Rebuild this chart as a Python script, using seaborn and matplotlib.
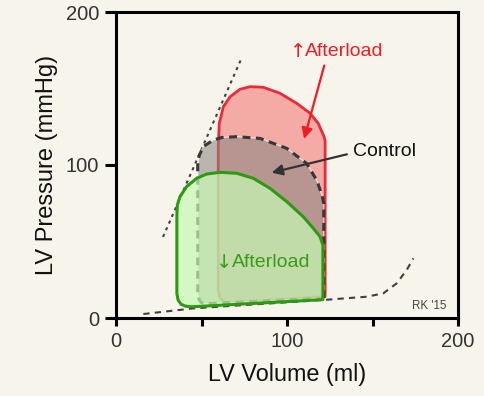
import numpy as np
import pandas as pd
import matplotlib
matplotlib.use("Agg")
import matplotlib.pyplot as plt
import seaborn as sns

# Pressure-volume loops (volume ml, pressure mmHg)
high_vol = [122.3, 122.3, 121.5, 120.3, 118.3, 113.5, 105.7, 95.9, 86.1, 78.4, 72.5, 66.7,
            62.8, 60.4, 59.8, 59.8, 60.8, 63.5, 67]
high_prs = [14, 116, 119, 122, 127.2, 133.8, 140.3, 146.9, 150.8, 151.2, 149.5, 144.6,
            138.1, 127.2, 112, 18, 13, 10.8, 10]

ctrl_vol = [121.5, 121.5, 120.5, 119.3, 117.4, 111.5, 99.8, 84.2, 70.6, 62, 56.9, 51, 48.6, 47.8,
            47.8, 48.6, 50, 52]
ctrl_prs = [13, 75, 80, 84, 90, 101, 110.9, 117.4, 118.5, 118, 116.3, 112, 106, 100,
            16, 12, 10, 9.3]

low_vol = [121, 121, 119.3, 115.4, 109.5, 99.8, 90, 80.3, 70.6, 60.8, 53, 47.2, 41.3, 37.4,
           35.9, 35.6, 35.6, 36.3, 38, 40.5, 44]
low_prs = [12, 47.7, 53.2, 58.6, 66.2, 76.1, 84.8, 91.3, 94.6, 95.2, 94.1, 91.3, 85.9, 79.3,
           73.9, 68, 16, 11.8, 9, 7.8, 7.3]

# end-systolic and end-diastolic relations
espvr_vol = [27.5, 73.5]
espvr_prs = [53, 170]
edpvr_vol = [16, 45.2, 121.3, 146.6, 156.3, 164.1, 170, 173.9]
edpvr_prs = [2.6, 6.3, 11.8, 13.9, 16.1, 22.6, 31.4, 39]

x_ticks = [0, 50, 100, 150, 200]
x_labels = ["0", "", "100", "", "200"]
y_ticks = [0, 100, 200]

bg = "#f7f4ec"
red = "#ee1c25"
green = "#3a9a1a"
sns.set_theme(style="ticks")
plt.rcParams["font.family"] = ["Liberation Sans", "DejaVu Sans"]

fig = plt.figure(figsize=(4.84, 3.96), dpi=100, facecolor=bg)
ax = fig.add_axes([116 / 484, 1 - 318 / 396, 342 / 484, 306 / 396])
ax.set_facecolor(bg)

# relations
sns.lineplot(x=edpvr_vol, y=edpvr_prs, ax=ax, color="#404040", lw=1.5,
             linestyle=(0, (3, 2.5)), sort=False, estimator=None, zorder=1)
sns.lineplot(x=espvr_vol, y=espvr_prs, ax=ax, color="#404040", lw=1.5,
             linestyle=(0, (1.5, 2)), sort=False, estimator=None, zorder=1)

# loops
ax.fill(high_vol, high_prs, facecolor="#f03c3c", alpha=0.4, zorder=2)
ax.fill(high_vol, high_prs, facecolor="none", edgecolor="#ec2a35", lw=2.0,
        joinstyle="round", zorder=2)
ax.fill(ctrl_vol, ctrl_prs, facecolor="#8a8782", alpha=0.57, zorder=3)
ax.fill(ctrl_vol, ctrl_prs, facecolor="none", edgecolor="#383838", lw=2.2,
        linestyle=(0, (2.6, 1.8)), joinstyle="round", zorder=3)
ax.fill(low_vol, low_prs, facecolor="#c6fab3", edgecolor="none", alpha=0.7, zorder=4)
ax.fill(low_vol, low_prs, facecolor="none", edgecolor="#2e9a12", lw=2.2,
        joinstyle="round", zorder=4)

# annotations
ax.text(106.5, 174, "\u2191", color=red, fontsize=14, va="center", ha="center",
        family="DejaVu Sans", zorder=6)
ax.text(110.5, 174, "Afterload", color=red, fontsize=14, va="center", ha="left", zorder=6)
ax.annotate("", xy=(110, 117), xytext=(121.8, 165),
            arrowprops=dict(arrowstyle="-|>", color=red, lw=1.6,
                            mutation_scale=16, shrinkA=0, shrinkB=0))
ax.annotate("Control", xy=(91, 95), xytext=(138.5, 108.5),
            color="#111111", fontsize=14, va="center", ha="left", zorder=6,
            arrowprops=dict(arrowstyle="-|>", color="#333333", lw=1.6,
                            mutation_scale=16, shrinkA=2, shrinkB=0,
                            relpos=(0, 0.45)))
ax.text(63.5, 36, "\u2193", color=green, fontsize=14, va="center", ha="center",
        family="DejaVu Sans", zorder=6)
ax.text(67.8, 36, "Afterload", color=green, fontsize=14, va="center", ha="left", zorder=6)
ax.text(193, 8, "RK '15", color="#444444", fontsize=8.3, va="center", ha="right")

ax.set_xlim(0, 200)
ax.set_ylim(0, 200)
ax.set_xticks(x_ticks)
ax.set_xticklabels(x_labels)
ax.set_yticks(y_ticks)
ax.tick_params(axis="both", direction="out", width=2.2, color="black",
               labelsize=14.5, labelcolor="#333333")
ax.tick_params(axis="x", length=6, pad=4)
ax.tick_params(axis="y", length=8, pad=4)
for s in ax.spines.values():
    s.set_linewidth(2.2)
    s.set_color("black")
ax.set_xlabel("LV Volume (ml)", fontsize=16.8, color="#111111", labelpad=9)
ax.set_ylabel("LV Pressure (mmHg)", fontsize=17, color="#111111", labelpad=6)

fig.savefig("out.png", dpi=100, facecolor=bg)
